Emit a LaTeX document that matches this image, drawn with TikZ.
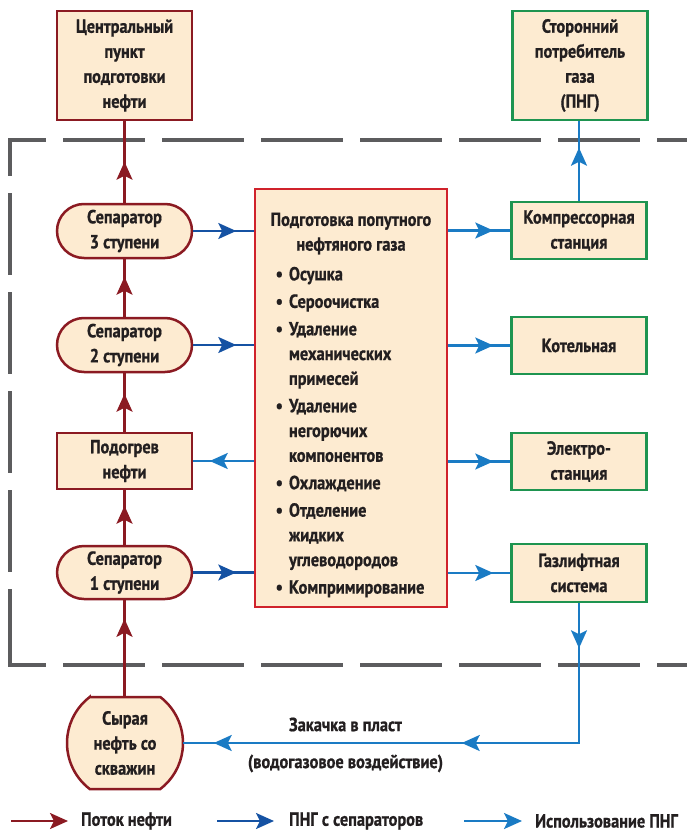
\documentclass[tikz,border=0pt]{standalone}
\usepackage{fontspec}
\setmainfont{PT Sans}[FakeStretch=0.86, FakeBold=0.8]
\usetikzlibrary{arrows.meta,decorations.markings,calc}
\definecolor{oil}{HTML}{8B1A22}
\definecolor{sepg}{HTML}{1552A3}
\definecolor{useg}{HTML}{1A7BC4}
\definecolor{prepred}{HTML}{D0222B}
\definecolor{grn}{HTML}{1E9450}
\definecolor{cream}{HTML}{FDEBD1}
\definecolor{ink}{HTML}{231F20}
\definecolor{frame}{HTML}{5C5C5E}
\newcommand\pngitem{\leavevmode\llap{\textbullet\hspace{6pt}}}
\tikzset{
  >={Stealth[length=18pt,width=16pt,inset=4pt]},
  txt/.style={font=\fontsize{19}{25}\selectfont\bfseries, text=ink},
  box/.style={txt, draw, line width=2.5pt, fill=cream, minimum width=135pt, align=center, inner sep=0pt},
  oilbox/.style={box, draw=oil},
  sepbox/.style={oilbox, rounded corners=27pt, minimum height=54pt},
  usebox/.style={box, draw=grn, minimum height=57pt},
  flow/.style={line width=2.5pt},
  oilflow/.style={flow, draw=oil},
  sepflow/.style={flow, draw=sepg},
  useflow/.style={flow, draw=useg},
  mid/.style={postaction={decorate, decoration={markings, mark=at position #1 with {\arrow{>}}}}},
  dashframe/.style={draw=frame, line width=4pt, dash pattern=on 82pt off 17pt, dash phase=44pt}
}
\begin{document}
\begin{tikzpicture}[x=1pt,y=-1pt]
\useasboundingbox (0,0) rectangle (687,832);
% dashed frame
\draw[dashframe] (8,140) -- (700,140);
\draw[dashframe] (10,138) -- (10,665);
\draw[dashframe] (8,665) -- (700,665);

% oil column
\node[oilbox, minimum height=109pt] (cpn) at (124.5,65.5) {Центральный\\пункт\\подготовки\\нефти};
\node[sepbox] (sep3) at (124.5,231) {Сепаратор\\3 ступени};
\node[sepbox] (sep2) at (124.5,345) {Сепаратор\\2 ступени};
\node[oilbox, minimum height=56pt] (heat) at (124.5,461) {Подогрев\\нефти};
\node[sepbox, minimum height=53pt] (sep1) at (124.5,572.5) {Сепаратор\\1 ступени};
\node[txt, minimum width=116pt, minimum height=92pt, inner sep=0pt, align=center] (crude) at (125,743) {Сырая\\нефть со\\скважин};
\draw[oil, line width=2.5pt, fill=cream]
  ($(crude.center)+(-35.3,-46)$) -- ($(crude.center)+(35.3,-46)$)
  arc[start angle=52.5, end angle=-52.5, radius=58pt]
  -- ($(crude.center)+(-35.3,46)$)
  arc[start angle=232.5, end angle=127.5, radius=58pt] -- cycle;
\node[txt, align=center] at (crude.center) {Сырая\\нефть со\\скважин};

% central box
\node[box, draw=prepred, minimum width=192pt, minimum height=418pt] (prep) at (351,398) {\parbox{172pt}{\fontsize{19}{24.75}\selectfont\bfseries
  \vspace*{14pt}
  \centering Подготовка попутного\\нефтяного газа\par
  \vspace{5pt}\raggedright\leftskip=24pt
  \pngitem Осушка\par\vspace{2.7pt}
  \pngitem Сероочистка\par\vspace{2.7pt}
  \pngitem Удаление\\механических\\примесей\par\vspace{2.7pt}
  \pngitem Удаление\\негорючих\\компонентов\par\vspace{2.7pt}
  \pngitem Охлаждение\par\vspace{2.7pt}
  \pngitem Отделение\\жидких\\углеводородов\par\vspace{2.7pt}
  \pngitem Компримирование\par}};

% use column
\node[usebox, minimum height=109pt] (ext) at (580,65.5) {Сторонний\\потребитель\\газа\\(ПНГ)};
\node[usebox] (comp) at (579,230.5) {Компрессорная\\станция};
\node[usebox] (kot) at (579,345.5) {Котельная};
\node[usebox] (el) at (579,461.5) {Электро-\\станция};
\node[usebox, minimum height=58pt] (gas) at (579,573) {Газлифтная\\система};

% oil flow
\draw[oilflow, mid=41pt] (sep3.north) -- (cpn.south);
\draw[oilflow, mid=40pt] (sep2.north) -- (sep3.south);
\draw[oilflow, mid=38pt] (heat.north) -- (sep2.south);
\draw[oilflow, mid=39pt] (sep1.north) -- (heat.south);
\draw[oilflow, mid=78pt] (crude.north -| sep1.south) -- (sep1.south);

% gas from separators
\draw[sepflow, mid=43pt] (sep3.east) -- (sep3.east -| prep.west);
\draw[sepflow, mid=43pt] (sep2.east) -- (sep2.east -| prep.west);
\draw[sepflow, mid=43pt] (sep1.east) -- (sep1.east -| prep.west);

% gas use
\draw[useflow, mid=44pt] (heat.east -| prep.west) -- (heat.east);
\draw[useflow, mid=45pt] (comp.west -| prep.east) -- (comp.west);
\draw[useflow, mid=45pt] (kot.west -| prep.east) -- (kot.west);
\draw[useflow, mid=45pt] (el.west -| prep.east) -- (el.west);
\draw[useflow, mid=45pt] (gas.west -| prep.east) -- (gas.west);
\draw[useflow, mid=53pt] (comp.north) -- (comp.north |- ext.south);
\draw[useflow, postaction={decorate, decoration={markings,
    mark=at position 45pt with {\arrow{>}},
    mark=at position 257pt with {\arrow{>}},
    mark=at position 505pt with {\arrow{>}}}}]
  (gas.south) |- (crude.east)
  node[txt, pos=0.795, above=7pt] (lab1) {Закачка в пласт}
  node[txt, pos=0.795, below=7pt] (lab2) {(водогазовое воздействие)};

% legend
\coordinate (l1s) at (11,821); \coordinate (l1e) at (68,821);
\coordinate (l2s) at (217,821); \coordinate (l2e) at (274,821);
\coordinate (l3s) at (464,821); \coordinate (l3e) at (522,821);
\draw[oilflow, ->] (l1s) -- (l1e);
\draw[sepflow, ->] (l2s) -- (l2e);
\draw[useflow, ->] (l3s) -- (l3e);
\node[txt, anchor=west, inner sep=0pt] (t1) at (81,821) {Поток нефти};
\node[txt, anchor=west, inner sep=0pt] (t2) at (289,821) {ПНГ с сепараторов};
\node[txt, anchor=west, inner sep=0pt] (t3) at (535,821) {Использование ПНГ};
\end{tikzpicture}
\end{document}
